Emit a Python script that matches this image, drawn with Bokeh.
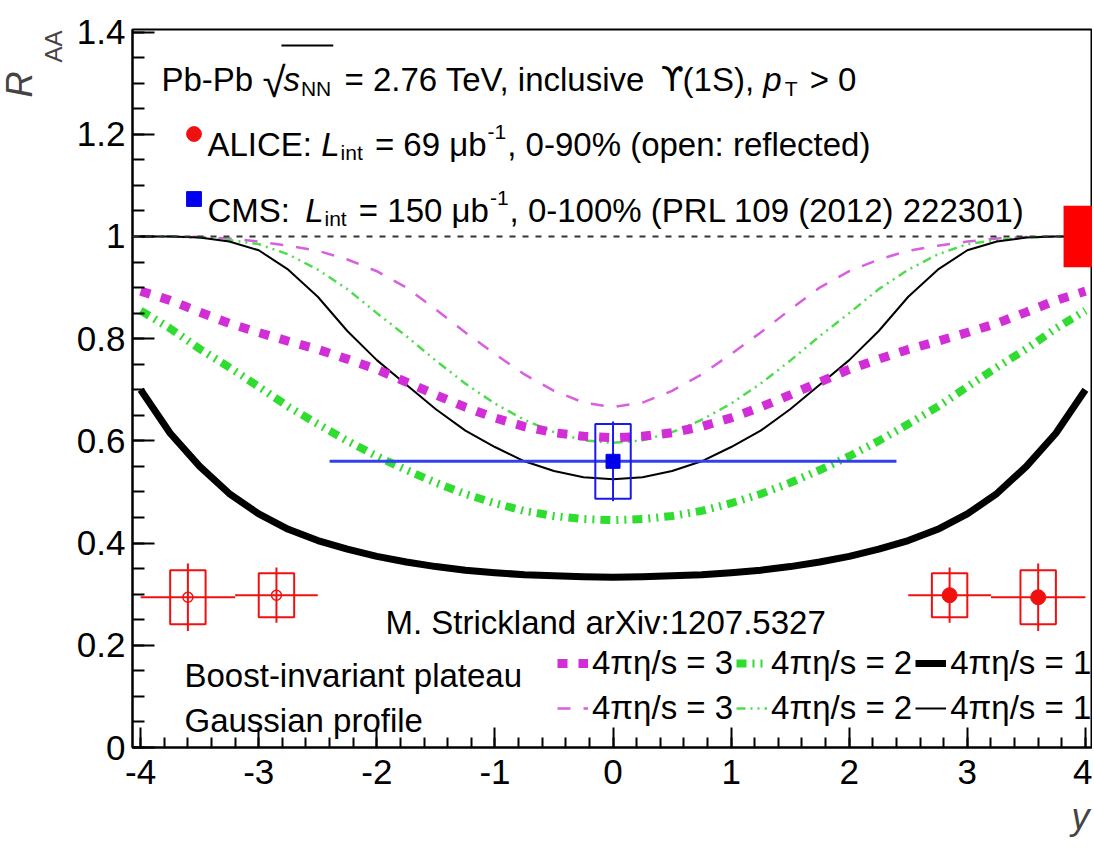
import math
from bokeh.plotting import figure
from bokeh.models import (Label, Legend, LegendItem, FixedTicker, CustomJSTickFormatter,
                          Range1d, Span, BoxAnnotation, Title)
from bokeh.embed import file_html
from bokeh.resources import INLINE

# ---------------- data ----------------
rap = [-4.0, -3.75, -3.5, -3.25, -3.0, -2.75, -2.5, -2.25, -2.0, -1.75, -1.5, -1.25, -1.0, -0.75,
       -0.5, -0.25, 0.0, 0.25, 0.5, 0.75, 1.0, 1.25, 1.5, 1.75, 2.0, 2.25, 2.5, 2.75, 3.0, 3.25,
       3.5, 3.75, 4.0]
# Boost-invariant plateau
bi3 = [0.893, 0.875, 0.852, 0.830, 0.812, 0.795, 0.779, 0.760, 0.740, 0.715, 0.690, 0.666, 0.645,
       0.628, 0.616, 0.609, 0.606, 0.609, 0.616, 0.628, 0.645, 0.666, 0.690, 0.715, 0.740, 0.760,
       0.779, 0.795, 0.812, 0.830, 0.852, 0.875, 0.893]
bi2 = [0.855, 0.820, 0.780, 0.744, 0.706, 0.667, 0.633, 0.600, 0.570, 0.543, 0.518, 0.496, 0.478,
       0.463, 0.453, 0.447, 0.445, 0.447, 0.453, 0.463, 0.478, 0.496, 0.518, 0.543, 0.570, 0.600,
       0.633, 0.667, 0.706, 0.744, 0.780, 0.820, 0.855]
bi1 = [0.700, 0.615, 0.550, 0.497, 0.457, 0.427, 0.405, 0.388, 0.374, 0.363, 0.354, 0.347, 0.342,
       0.338, 0.336, 0.334, 0.333, 0.334, 0.336, 0.338, 0.342, 0.347, 0.354, 0.363, 0.374, 0.388,
       0.405, 0.427, 0.457, 0.497, 0.550, 0.615, 0.700]
# Gaussian profile
g3 = [1.000, 1.000, 0.999, 0.996, 0.990, 0.982, 0.972, 0.955, 0.932, 0.900, 0.857, 0.812, 0.770,
      0.730, 0.698, 0.675, 0.666, 0.675, 0.698, 0.730, 0.770, 0.812, 0.857, 0.900, 0.932, 0.955,
      0.972, 0.982, 0.990, 0.996, 0.999, 1.000, 1.000]
g2 = [1.000, 1.000, 0.998, 0.993, 0.985, 0.965, 0.935, 0.897, 0.850, 0.805, 0.757, 0.712, 0.673,
      0.641, 0.617, 0.601, 0.596, 0.601, 0.617, 0.641, 0.673, 0.712, 0.757, 0.805, 0.850, 0.897,
      0.935, 0.965, 0.985, 0.993, 0.998, 1.000, 1.000]
g1 = [1.000, 1.000, 0.998, 0.990, 0.973, 0.935, 0.882, 0.815, 0.758, 0.710, 0.662, 0.620, 0.588,
      0.560, 0.541, 0.529, 0.525, 0.529, 0.541, 0.560, 0.588, 0.620, 0.662, 0.710, 0.758, 0.815,
      0.882, 0.935, 0.973, 0.990, 0.998, 1.000, 1.000]

# ALICE (filled: measured, open: reflected)
alice_rap = [2.85, 3.6]
alice_lo = [2.5, 3.2]
alice_hi = [3.2, 4.0]
alice_raa = [0.298, 0.294]
alice_stat = [0.054, 0.066]
alice_syst = [0.043, 0.053]
alice_glob = 0.06

# CMS
cms_rap = [0.0]
cms_lo = [-2.4]
cms_hi = [2.4]
cms_raa = [0.56]
cms_stat = [0.078]
cms_syst = [0.073]

y_ticks = [0.0, 0.2, 0.4, 0.6, 0.8, 1.0, 1.2, 1.4]
x_ticks = [-4, -3, -2, -1, 0, 1, 2, 3, 4]

# ---------------- geometry helpers ----------------
FONT = "Liberation Sans"
W, H = 1092, 846
FL, FR, FT, FB = 132, 1092, 29, 747       # frame edges in canvas pixels
XR = (-4.069, 4.06)
YR = (0.0, 1.405)


def dx(px):
    return XR[0] + (px - FL) * (XR[1] - XR[0]) / (FR - FL)


def dy(py):
    return YR[0] + (FB - py) * (YR[1] - YR[0]) / (FB - FT)


p = figure(width=W, height=H, x_range=Range1d(*XR), y_range=Range1d(*YR),
           output_backend="svg", toolbar_location=None, title=None,
           min_border_left=FL, min_border_right=W - FR, min_border_top=FT,
           min_border_bottom=H - FB)
p.xgrid.visible = False
p.ygrid.visible = False
p.outline_line_color = "black"
p.outline_line_width = 2
p.background_fill_color = "white"
p.border_fill_color = "white"

fmt = CustomJSTickFormatter(code="return (Math.round(tick*10)/10).toString();")
p.yaxis.ticker = FixedTicker(ticks=y_ticks,
                             minor_ticks=[round(0.05 * i, 2) for i in range(0, 29)])
p.xaxis.ticker = FixedTicker(ticks=x_ticks,
                             minor_ticks=[round(-4 + 0.2 * i, 1) for i in range(0, 41)])
for ax in (p.xaxis[0], p.yaxis[0]):
    ax.formatter = fmt
    ax.major_label_text_font = FONT
    ax.major_label_text_font_size = "35px"
    ax.major_label_text_color = "black"
    ax.axis_line_width = 2
    ax.major_tick_out = 0
    ax.minor_tick_out = 0
    ax.major_tick_line_width = 2
    ax.minor_tick_line_width = 2
p.xaxis.major_tick_in = 20
p.xaxis.minor_tick_in = 10
p.yaxis.major_tick_in = 22
p.yaxis.minor_tick_in = 12
p.xaxis.major_label_standoff = 12
p.yaxis.major_label_standoff = 7

# axis titles (ROOT style: at the end of the axes)
p.add_layout(Title(text="AA", align="right", offset=1, standoff=14, text_font=FONT,
                   text_font_size="24px", text_font_style="normal"), "left")
p.add_layout(Title(text="R", align="right", offset=42, standoff=-18, text_font=FONT,
                   text_font_size="36px", text_font_style="italic"), "left")
p.add_layout(Title(text="y", align="right", offset=3, standoff=14, text_font=FONT,
                   text_font_size="36px", text_font_style="italic"), "below")

# ---------------- curves ----------------
p.add_layout(Span(location=1.0, dimension="width", line_color="#333333", line_width=2,
                  line_dash="6 7"))
r_g3 = p.line(rap, g3, line_color="#d95ee0", line_width=2.5, line_dash="13 13")
r_g2 = p.line(rap, g2, line_color="#4ddc4d", line_width=2.5, line_dash="9 5 2 5 2 5")
r_g1 = p.line(rap, g1, line_color="black", line_width=2)
r_bi3 = p.line(rap, bi3, line_color="#d22ed8", line_width=9, line_dash="10 11")
r_bi2 = p.line(rap, bi2, line_color="#2fdc2f", line_width=8, line_dash="10 6 2 6 2 6")
r_bi1 = p.line(rap, bi1, line_color="black", line_width=7, line_join="round")

# ---------------- ALICE ----------------
RED = "#f01010"
p.add_layout(BoxAnnotation(left=3.815, bottom=1 - alice_glob, top=1 + alice_glob,
                           fill_color="#ff0000", fill_alpha=1.0, line_color=None))
refl_rap = [-v for v in alice_rap]
refl_lo = [-v for v in alice_hi]
refl_hi = [-v for v in alice_lo]
for xs, lo, hi in ((alice_rap, alice_lo, alice_hi), (refl_rap, refl_lo, refl_hi)):
    p.segment(x0=lo, y0=alice_raa, x1=hi, y1=alice_raa, line_color=RED, line_width=2)
    p.segment(x0=xs, y0=[a - s for a, s in zip(alice_raa, alice_stat)],
              x1=xs, y1=[a + s for a, s in zip(alice_raa, alice_stat)],
              line_color=RED, line_width=2)
    p.rect(x=xs, y=alice_raa, width=0.3, height=[2 * s for s in alice_syst],
           fill_alpha=0, line_color=RED, line_width=2)
r_alice = p.scatter(alice_rap, alice_raa, marker="circle", size=15, fill_color=RED,
                    line_color=RED)
p.scatter(refl_rap, alice_raa, marker="circle", size=10, fill_alpha=0, line_color=RED,
          line_width=1.5)

# ---------------- CMS ----------------
BLUE = "#1a1aee"
p.segment(x0=cms_lo, y0=cms_raa, x1=cms_hi, y1=cms_raa, line_color="#3340f0", line_width=3)
p.segment(x0=cms_rap, y0=[a - s for a, s in zip(cms_raa, cms_stat)],
          x1=cms_rap, y1=[a + s for a, s in zip(cms_raa, cms_stat)],
          line_color=BLUE, line_width=2)
p.rect(x=cms_rap, y=cms_raa, width=0.3, height=[2 * s for s in cms_syst],
       fill_alpha=0, line_color=BLUE, line_width=2)
r_cms = p.scatter(cms_rap, cms_raa, marker="square", size=14, fill_color="#0000ee",
                  line_color="#0000ee")

# ---------------- text helpers ----------------
AW = {' ': 278, '%': 889, '(': 333, ')': 333, ',': 278, '-': 333, '.': 278, '/': 278, ':': 278,
      '=': 584, '>': 584, 'A': 667, 'C': 722, 'E': 667, 'I': 278, 'L': 556, 'M': 833, 'N': 722,
      'P': 667, 'R': 722, 'S': 667, 'T': 611, 'V': 667, 'X': 667, 'a': 556, 'b': 556, 'c': 500,
      'd': 556, 'e': 556, 'f': 278, 'i': 222, 'k': 500, 'l': 222, 'n': 556, 'o': 556, 'p': 556,
      'r': 333, 's': 500, 't': 278, 'u': 556, 'v': 500, 'μ': 576, 'ϒ': 660, 'π': 580, 'η': 556,
      '√': 549}


def tw(s, size):
    return sum(AW.get(c, 556) for c in s) * size / 1000.0


def lab(px, py, text, size, style="normal", align="left", color="black", font=FONT):
    p.add_layout(Label(x=dx(px), y=dy(py), text=text, text_font=font,
                       text_font_size=f"{size}px", text_font_style=style, text_color=color,
                       text_align=align, text_baseline="alphabetic"))


def run(px, py, parts):
    """Place text pieces one after another (SVG drops leading/trailing blanks)."""
    x = px
    starts = []
    for part in parts:
        text, size, style, off, extra = part[:5]
        font = part[5] if len(part) > 5 else FONT
        starts.append(x)
        lead = len(text) - len(text.lstrip(' '))
        lab(x + tw(' ' * lead, size), py + off, text.strip(' '), size, style, font=font)
        x += tw(text, size) + extra
    starts.append(x)
    return starts


# header line 1
s1 = run(161, 79, [("Pb-Pb ", 33, "normal", 0, 0), ("√", 42, "normal", 3, -2),
                   ("s", 33, "italic", 0, 1), ("NN", 21, "normal", 9, 4),
                   (" = 2.76 TeV, inclusive ", 33, "normal", 0, 0),
                   ("ϒ", 33, "normal", 0, 0, "DejaVu Sans"),
                   ("(1S), ", 33, "normal", 0, 0),
                   ("p", 33, "italic", 0, 3),
                   ("T", 21, "normal", 9, 3), (" > 0", 33, "normal", 0, 0)])
# overline of the square root
p.add_layout(BoxAnnotation(left=dx(s1[1] + tw("√", 42) - 4), right=dx(s1[4] - 2),
                           top=dy(44), bottom=dy(46),
                           fill_color="black", fill_alpha=1.0, line_color=None))
# header line 2
run(207, 144, [("ALICE: ", 33, "normal", 0, 0), ("L", 33, "italic", 0, 1),
               ("int", 21, "normal", 8, 3), (" = 69 μb", 33, "normal", 0, 1),
               ("-1", 21, "normal", -13, 1), (", 0-90% (open: reflected)", 33, "normal", 0, 0)])
# header line 3
run(207, 210, [("CMS: ", 33, "normal", 0, 6), ("L", 33, "italic", 0, 1),
               ("int", 21, "normal", 8, 3), (" = 150 μb", 33, "normal", 0, 1),
               ("-1", 21, "normal", -13, 1),
               (", 0-100% (PRL 109 (2012) 222301)", 33, "normal", 0, 0)])

lab(385, 622, "M. Strickland arXiv:1207.5327", 33)
lab(184, 675, "Boost-invariant plateau", 33)
lab(184, 720, "Gaussian profile", 33)

# ---------------- legends ----------------
leg_top = Legend(items=[LegendItem(label=" ", renderers=[r_alice]),
                        LegendItem(label=" ", renderers=[r_cms])],
                 orientation="vertical", location=(42.5, 530.5), glyph_width=37,
                 glyph_height=37, spacing=28, padding=0, margin=0, label_standoff=0,
                 label_width=1, label_height=1, label_text_font_size="1px",
                 border_line_color=None, background_fill_alpha=0)
p.add_layout(leg_top)

common = dict(orientation="horizontal", glyph_width=31, glyph_height=30, label_width=139,
              label_height=30, label_standoff=4, spacing=3, padding=0, margin=0,
              border_line_color=None, background_fill_alpha=0, label_text_font=FONT,
              label_text_font_size="33px", label_text_color="black")
leg_bi = Legend(items=[LegendItem(label="4πη/s = 3", renderers=[r_bi3]),
                       LegendItem(label="4πη/s = 2", renderers=[r_bi2]),
                       LegendItem(label="4πη/s = 1", renderers=[r_bi1])],
                location=(425, 65), **common)
leg_g = Legend(items=[LegendItem(label="4πη/s = 3", renderers=[r_g3]),
                      LegendItem(label="4πη/s = 2", renderers=[r_g2]),
                      LegendItem(label="4πη/s = 1", renderers=[r_g1])],
               location=(425, 20), **common)
p.add_layout(leg_bi)
p.add_layout(leg_g)

open("out.html", "w").write(file_html(p, INLINE))
